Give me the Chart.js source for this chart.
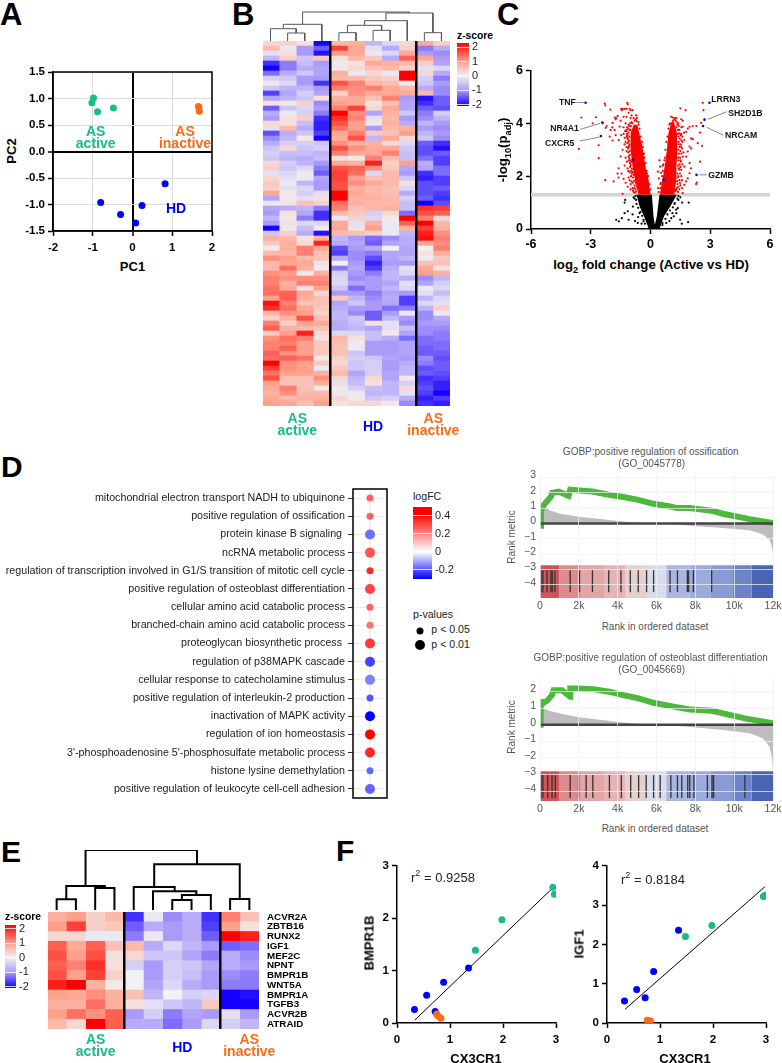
<!DOCTYPE html>
<html>
<head>
<meta charset="utf-8">
<title>Figure panels A-F</title>
<script src="https://cdn.jsdelivr.net/npm/chart.js@4"></script>
<style>
  html, body { margin: 0; background: #fff; }
  #page { position: relative; width: 782px; height: 1063px; overflow: hidden; font-family: "Liberation Sans", Arial, sans-serif; }
  #page canvas { position: absolute; }
  .lbl { position: absolute; white-space: nowrap; line-height: 1; }
  .lbl sub, .lbl sup { font-size: 70%; line-height: 0; }
</style>
</head>
<body>
<div id="page"></div>
<script>
// Panel A: PCA
const pcaActive = [[-0.98, 1.01], [-1.02, 0.92], [-0.88, 0.75], [-0.48, 0.82]];
const pcaInactive = [[1.66, 0.85], [1.67, 0.82], [1.68, 0.76]];
const pcaHD = [[0.82, -0.61], [-0.80, -0.96], [-0.30, -1.19], [0.24, -1.02], [0.08, -1.35]];

// Panel B: z-scores, 73 genes x 11 samples (AS active 4, HD 5, AS inactive 2)
const heatB = [
  [.3,.4,.2,-2,.7,.8,-.7,-.3,.3,.9,.4],
  [.7,-.1,-1,-1.4,1.6,.9,-.2,-.8,.4,-1.2,-.8],
  [-.2,.2,-1,-1.9,1,.9,-.1,-.3,.9,-1,-1.1],
  [-.7,.4,-.5,.5,.2,.7,.5,-.8,1.4,.9,-1],
  [-1.7,-1.2,-.6,-1,.1,.2,.9,.8,.7,.4,-.9],
  [-2,-1.2,-.8,-.9,.1,.3,.6,.7,.4,-.2,-.3],
  [-1.3,-.8,-.5,-.9,.8,-.1,.3,-.1,2.1,.3,-.8],
  [-.4,-.5,-1,-1,.7,.7,.5,.4,2,-.4,-1.2],
  [-.1,-.3,-1,-1.7,1.5,1.2,.7,.6,.1,-.5,-1],
  [-.5,-.7,-.7,-1,1.2,1.1,1.2,.9,.7,-.8,-1.1],
  [-1.6,-.9,-.4,-.9,.4,1.1,.9,.9,.9,.7,-1.1],
  [-.9,-.7,-.5,.2,.8,.9,.6,1.2,-1,-1.9,-1.4],
  [.2,.1,.4,-1.1,1,.9,.2,.6,-.9,-1.7,-1.4],
  [-1.4,-.5,-.3,-1,1.2,1.6,.3,.9,-.9,-1.4,-1.5],
  [-.8,-.1,-.4,-1.2,2,1.1,-.9,.8,-.5,-1.2,-.4],
  [-1,.2,.4,-1.7,1.7,1.2,-.2,.7,-1,-1.1,-.7],
  [.3,.2,-.6,-1.8,1.5,1,.1,.8,-.8,-.7,-1],
  [-.2,.7,-.8,-1.8,1.3,1,-1,.7,.8,-1,-1.1],
  [-1.5,-.8,-.5,-1.6,.9,1.2,.5,.6,1,-.7,-1],
  [-1.1,-.7,.1,-2.1,.8,1.5,-.7,.9,.3,-.5,-1.1],
  [-.8,-.4,-.4,-.5,1.1,.8,.8,.3,-.3,-1.4,-1.7],
  [-.5,.3,-.5,-.4,1.5,1.1,.9,.9,-.5,-1.5,-1.9],
  [-.4,-.6,-.6,-.7,1.2,.9,.9,1.2,-.6,-1.5,-1.4],
  [-.5,-.7,-.8,-.6,.2,.1,1.2,.7,-.6,-1.3,-1.6],
  [.3,-.4,-.7,-1,.9,.8,1.8,.4,1,-.8,-1.6],
  [.4,-.5,-.3,-1.2,1.5,1.4,1.1,.5,-.9,-.9,-1.3],
  [-.2,-.3,.1,-1.4,1.6,1.3,-.3,.7,-1,-1.7,-1.3],
  [.3,-.2,-.1,-.9,1.6,1,.6,.7,-.5,-1.8,-1.6],
  [.5,-.1,-.7,-1,1.5,1.1,.9,.7,.2,-1.5,-1.6],
  [.4,-.2,-.3,-1,1.5,.8,.7,.6,-.3,-1.5,-1.4],
  [.9,.1,-.4,-.2,2,.9,.7,.6,-.8,-1.5,-1.6],
  [-.9,-.1,-.2,.2,2,.8,.8,.7,-.4,-1.4,-1.7],
  [-.1,.2,.6,.4,1.3,.8,.7,.7,-.6,-2,-1.5],
  [-.9,-.8,-.7,-1.2,1.2,.6,.7,.8,-.6,1.7,1.6],
  [-1,.2,-.9,-1.7,.7,.5,-.4,.3,-1.3,1.5,1.4],
  [-.7,.1,-1.2,-1.7,-.1,.4,-.3,.1,2,1.2,.3],
  [-1,.2,-.3,-.3,.9,-.2,.8,-.1,1.4,2,.7],
  [-2.1,-.1,-.6,.1,.9,.2,1,-.1,.8,1.6,.8],
  [-.5,.4,-.8,-1.9,.7,.6,.4,-.1,-.7,1.8,1.1],
  [.8,.7,.2,.8,-.7,-1,-1.3,-1.1,-.8,1.9,1.2],
  [.5,.8,.3,1.8,-.8,-.9,-1.4,-.9,-.8,.9,1.1],
  [.1,.8,1.2,.9,-1.5,-1,-.8,0,-.9,0,1.2],
  [.7,.7,1.2,.6,-1.6,-1.1,-1.2,-.9,-.9,.2,.8],
  [1.1,1,.7,.6,-.8,-1.1,-1.5,-.9,-.7,.1,.5],
  [.7,.9,.9,.2,0,-1,-1.8,-1,-1,.6,.6],
  [.7,1.3,.8,.1,-1.2,-.9,-1.6,-.8,-.2,.9,.2],
  [1.1,1,.1,.8,-.4,-1,-1.2,-.7,-.3,1,.8],
  [1.2,1.1,1.1,1.1,-.3,-1.1,-1,-.7,-.8,-1.1,-.7],
  [1.2,.8,1.2,1.2,-.3,-.9,-1,-.9,-.2,-.9,-.4],
  [1.3,.9,.2,1,-.5,-1.3,-1,-.7,-.3,-.1,-.3],
  [1.3,1.4,.9,.3,-1,-1,-1.2,-.9,-1,-.2,-.6],
  [1,1.4,.8,.6,.5,-.7,-1.1,-.8,-1.6,-.7,-.3],
  [1.9,1.2,.6,.6,-.9,-.5,-1,-.9,-1.6,-.3,-.2],
  [1.7,1.3,.9,.5,-.8,-1,-1,-1.3,-1.2,-.7,.4],
  [.7,1.1,1,.4,-.7,-1.1,-1.4,-1,-.1,-1.1,-.1],
  [.4,.8,1.5,.6,-.7,-.5,-1.4,-.7,-1,-1.1,-.8],
  [1.2,.4,1,.9,-.8,-.6,.2,-.2,-1.1,-1,-1],
  [1.4,.8,.7,.6,-.8,-.7,-.9,-.2,-.6,-1.1,-1.1],
  [.5,1,1.8,.3,-.3,-.3,-.6,.1,-.9,-1.1,-1.2],
  [1.1,1.3,1.2,.2,.7,.2,-.6,-.8,-1.3,-1.3,-1.2],
  [1.2,1.2,1,.5,.6,-.1,-1,-1,-.9,-1.3,-1.3],
  [1.2,1.4,1,.5,.6,-.1,-1,-1,-.9,-1.4,-1.3],
  [1.4,1.1,1,.5,.6,-.5,-1,-1,-.9,-1.4,-1.4],
  [1.3,1.4,1.3,.1,.4,-.4,-.5,-.9,-1,-1.1,-1.5],
  [2,1.1,1,.5,.3,-.5,-.4,-1,-.8,-1.2,-1.4],
  [1.6,1.1,1,-.1,.5,-.5,-.4,-1,-.7,-1.5,-1.4],
  [1.3,1,1,.8,.7,-.9,-.4,-.9,-.7,-1.4,-1.5],
  [1.5,.6,.6,1.1,.3,-.7,.3,-.9,.1,-1.7,-1.6],
  [1,.6,.6,.8,-.2,-.6,.2,-.7,-.4,-1.6,-1.8],
  [.9,1.2,.6,.1,.1,-.4,-.6,-.7,.3,-1.5,-1.8],
  [.8,1.1,.7,.7,-.1,-.1,-.7,-.7,-.2,-1.6,-2.1],
  [.9,.7,.8,.8,.3,.1,-.5,-.4,-.8,-1.8,-1.6],
  [1,.9,.6,1,.2,.3,.3,.1,-1.1,-1.7,-1.8]
];
const treeB = [[[0, [1, 2, 8], 12.3], 3, 16.7], [[[[4, 5, 8.3], [6, 7, 10.7], 15.7], 8, 20.3], [9, 10, 8.3], 28], 29];

// Panel C: volcano. The packed arms are read as outlines, the loose points one by one
const armLeft = [[-.6,1.3],[-.78,1.86],[-.9,2.36],[-1,2.99],[-1,3.62],[-.85,3.95],[-.66,3.95],[-.56,3.62],[-.38,2.99],[-.25,2.36],[-.1,1.86],[.01,1.3]];
const armRight = [[.47,1.3],[.6,1.86],[.71,2.36],[.82,2.99],[.9,3.62],[1.05,4.05],[1.18,4.05],[1.33,3.62],[1.35,2.99],[1.3,2.36],[1.3,1.86],[1.2,1.3]];
const notSigBlock = [[-.08,0],[-.33,.48],[-.55,.86],[-.7,1.3],[.07,1.3],[.15,.48],[.22,.16],[.32,.48],[.45,1.3],[1.32,1.3],[1.0,.86],[.68,.48],[.45,0]];
const sigLoose = [
  [-3.6,3.03],[-3.47,4.22],[-2.74,4.23],[-2.9,4.0],[-2.3,4.75],[-2.27,4.68],[-2.02,4.52],[-2.4,4.0],[-2.2,3.9],[-2.0,3.75],[-2.25,3.83],
  [-1.8,4.22],[-1.72,4.2],[-1.75,4.15],[-1.44,4.5],[-1.17,4.78],[-1.14,4.72],[-1.4,4.55],[-1.47,4.55],[-1.3,4.55],[-1.2,4.55],[-1.05,4.55],
  [-1,4.5],[-1.65,4.28],[-1.9,4.02],[-1.92,3.85],[-1.8,3.75],[-1.55,3.88],[-1.75,3.55],[-1.47,3.55],[-1.6,3.37],[-1.3,3.45],[-1.9,3.35],
  [-2.05,3.5],[-2.6,3.17],[-2.6,2.68],[-2.27,1.85],[-1.85,1.8],[-1.6,2.3],[-1.65,2.1],[-1.6,1.95],[-1.45,2.1],[-1.35,1.9],[-1.25,1.75],
  [-1.15,1.6],[-1.4,1.33],[-1.3,2.4],[-1.5,2.75],[-1.4,3.0],[-1.2,3.1],[-1.25,2.7],[-1.3,3.2],[-1.15,2.3],[-1.1,1.95],[-1,1.5],[-1.15,3.4],
  [-1.2,3.7],[-1.35,3.85],[-1.5,4.1],[-1.25,4.0],[-1.1,3.95],[-.95,4.3],[-.9,4.5],[-1,4.2],[-.85,4.2],[-.8,4.1],[-1.1,4.4],[-1.2,4.25],
  [-1.35,4.25],[-.95,2.1],[-.95,1.8],[-.9,1.55],[-.85,1.4],[-1.05,3.2],[-1.12,2.9],[-1.08,2.6],[-1.02,2.35],[-.98,2.0],[-.8,1.65],[-.72,1.42],
  [-1.15,3.55],[-1.18,3.85],[-.95,4.05],[-.7,4.08],[-.6,4.05],[-.75,1.5],[-.9,1.75],[-1.02,2.6],[-1.1,3.1],
  [-.75,4.15],[-.68,4.2],[-.72,4.3],[-.78,1.38],[-.82,1.55],[-.88,1.95],[-.96,2.2],[-1.04,2.8],[-1.08,3.35],[-1.05,3.75],
  [0,1.5],[-.05,1.7],[-.12,2.0],[-.2,2.2],[-.25,2.5],[-.3,2.7],[-.38,3.1],[-.42,3.3],[-.5,3.5],[-.55,3.8],[-.6,3.95],[-.46,3.2],[-.33,2.85],[-.17,2.1],
  [-.7,1.6],[-.74,1.75],[-.82,1.82],[-.86,2.05],[-.9,2.15],[-.93,2.28],[-1,2.42],[-1.03,2.5],[-.97,2.55],[-1.06,2.68],[-1.1,2.75],[-1.04,2.95],
  [-1.12,3.05],[-1.08,3.15],[-1.16,3.25],[-1.1,3.3],[-1.14,3.45],[-1.2,3.5],[-1.06,3.5],[-1.1,3.65],[-1.18,3.6],[-1.22,3.75],[-1.12,3.8],[-1,3.75],
  [-1.08,3.9],[-.98,3.9],[-.92,4.0],[-1.02,4.0],[-1.28,3.7],[-1.35,3.6],[-1.25,3.3],[-1.2,2.95],[-1.18,2.55],[-1.12,2.2],[-1.05,2.15],[-1,1.7],[-1.05,1.85],[-.88,1.45],
  [2.63,4.78],[2.66,4.5],[1.5,4.57],[1.76,4.5],[1.04,4.25],[1.12,4.22],[1.2,4.15],[1.54,4.15],[1.62,4.1],[1.62,3.87],[1.96,3.87],[2.12,3.9],
  [2.3,3.9],[2.54,4.02],[2.49,3.65],[1.87,3.8],[1.79,3.68],[2.04,3.43],[2.12,3.4],[2.37,3.25],[2.59,3.15],[1.96,3.12],[1.87,2.93],[2.04,3.05],
  [1.79,2.74],[1.96,2.49],[2.04,2.3],[2.49,2.55],[2.32,1.76],[2.29,1.7],[1.96,2.11],[1.79,1.8],[1.87,1.92],[1.62,1.36],[1.59,1.55],[1.7,1.67],
  [1.54,2.24],[1.7,2.36],[1.62,2.74],[1.54,3.12],[1.7,3.37],[1.55,3.6],[1.6,3.3],[1.5,2.6],[1.55,2.0],[1.48,1.75],[1.45,1.5],[1.38,1.4],
  [.45,2.6],[.48,2.36],[.37,2.17],[.53,2.13],[.42,1.92],[.5,1.7],[.38,1.55],[.62,2.4],[.7,2.6],[1.3,4.2],[1.4,4.0],[.95,3.95],[1.55,3.85],
  [.42,1.4],[.5,1.55],[.52,1.75],[.58,2.0],[.62,2.2],[.65,2.45],[.72,2.7],[.75,3.0],[.8,3.3],[.85,3.5],[.9,3.8],[.98,4.0],
  [1.35,1.42],[1.4,1.6],[1.45,1.85],[1.48,2.1],[1.5,2.35],[1.52,2.55],[1.55,2.85],[1.58,3.05],[1.55,3.35],[1.52,3.55],[1.45,3.75],[1.35,3.95],[1.25,4.1],
  [1.38,2.7],[1.42,3.2],[1.4,3.5],[1.42,2.3],[1.36,1.95],[1.28,1.5],
  [1.26,1.45],[1.33,1.55],[1.36,1.7],[1.34,1.8],[1.4,2.0],[1.35,2.1],[1.44,2.25],[1.38,2.4],[1.46,2.45],[1.4,2.6],[1.48,2.7],[1.42,2.85],[1.5,2.95],
  [1.4,3.0],[1.46,3.1],[1.52,3.2],[1.42,3.3],[1.47,3.42],[1.38,3.6],[1.46,3.62],[1.38,3.75],[1.3,3.85],[1.42,3.9],[1.32,4.05],[1.22,4.2],[1.12,4.1],
  [1.6,2.45],[1.66,2.9],[1.6,3.5],[1.68,3.65],[1.58,1.85],[1.5,1.65]
];
const notSigLoose = [
  [-1.27,1.1],[-1.72,.35],[-1.44,.41],[-1.14,.67],[-1.3,.6],[-1.1,.35],[-1.3,1.0],[-1.59,.29],[-.64,.23],[-.35,.29],[-.55,.6],[-.72,1.1],
  [-.88,.85],[-.78,.3],[-.9,.55],[-.62,.45],[-.45,.2],[-.85,1.2],[1.92,1.0],[1.59,1.0],[1.37,.79],[1.49,.35],[1.89,.26],[1.57,.2],[1.17,.48],
  [1.29,.73],[1.04,.41],[.79,.23],[1.4,1.1],[1.5,1.2],[1.2,.95],[1.3,.6],[.95,.3],[1.1,.6],[.6,.15],
  [-.75,1.25],[-.8,1.15],[-.7,.95],[-.62,.8],[-.5,.65],[-.42,.5],[-.35,.35],[-.28,.2],[1.4,1.25],[1.35,1.15],[1.22,.98],[1.12,.82],[.98,.7],[.85,.55],[.75,.38],[.6,.22]
];
const geneGroups = [[-3.26,4.78],[2.96,4.78],[2.71,4.14],[2.64,3.9],[-2.42,4.03],[-2.49,3.52],[2.31,2.05],[-.89,2.62],[.65,1.86]];
const leaderLines = [
  [[-3.71,4.79],[-3.34,4.79]], [[-3.53,3.77],[-2.53,4.0]], [[-3.56,3.33],[-2.56,3.48]],
  [[2.88,4.15],[3.83,4.44]], [[2.82,3.85],[3.63,3.56]], [[2.46,2.05],[2.83,2.05]]
];

// Panel D: enrichment dots
const termLabels = [
  'mitochondrial electron transport NADH to ubiquinone', 'positive regulation of ossification', 'protein kinase B signaling ',
  'ncRNA metabolic process', 'regulation of transcription involved in G1/S transition of mitotic cell cycle',
  'positive regulation of osteoblast differentiation', 'cellular amino acid catabolic process',
  'branched-chain amino acid catabolic process', 'proteoglycan biosynthetic process ', 'regulation of p38MAPK cascade',
  'cellular response to catecholamine stimulus', 'positive regulation of interleukin-2 production',
  'inactivation of MAPK activity', 'regulation of ion homeostasis', "3'-phosphoadenosine 5'-phosphosulfate metabolic process",
  'histone lysine demethylation', 'positive regulation of leukocyte cell-cell adhesion'
];
const termLogFC = [.28, .28, -.17, .3, .38, .33, .28, .25, .35, -.22, -.15, -.2, -.3, .45, .38, -.18, -.18];
const termP = [.05, .05, .01, .01, .05, .01, .05, .05, .01, .01, .01, .05, .01, .01, .01, .05, .01];

// Panel D right: GSEA running score, rank metric and hit positions
const scoreOssif = [[0,-.15],[50,.8],[190,1.2],[360,1.45],[565,1.75],[630,2.0],[960,2.08],[1470,1.8],[1555,2.2],[2035,2.15],[2700,2.08],[3540,1.87],[4290,1.72],[5060,1.54],[5850,1.28],[6700,1.1],[7080,1.0],[7710,1.0],[8840,.83],[9420,.63],[10790,.28],[12000,.02]];
const metricOssif = [[0,2.6],[50,1.3],[530,.85],[1040,.63],[2070,.41],[3100,.28],[4290,.13],[5150,.02],[6500,-.02],[7710,-.15],[9420,-.3],[10790,-.45],[11470,-.7],[11820,-1.07],[11940,-1.5],[12000,-1.93]];
const hitsOssif = [50,150,360,565,630,770,1555,2035,2700,3540,4170,4650,5060,5490,5850,6700,7080,7590,7660,7900,8840];
const scoreOsteo = [[0,0],[20,1.55],[50,1.18],[395,1.48],[620,1.78],[700,2.08],[1130,2.08],[1555,1.68],[1560,2.18],[1985,2.18],[2750,2.14],[3575,1.98],[4290,1.78],[5080,1.58],[5850,1.32],[6740,1.12],[7710,.92],[8860,.84],[9420,.68],[10550,.38],[12000,.08]];
const metricOsteo = [[0,2.8],[20,1.04],[530,.82],[1040,.68],[2070,.44],[3100,.3],[4290,.14],[5150,.04],[6500,-.02],[7710,-.14],[9420,-.32],[10790,-.52],[11470,-.82],[11820,-1.32],[11940,-1.92],[12000,-2.72]];
const hitsOsteo = [50,150,395,620,790,1555,1985,2375,2720,3575,4190,4670,5080,5470,5850,6190,6740,7080,7300,7610,7710,7930,8620,8860,8940,10550];
const stripEdges = [0,1000,2100,3300,4400,5500,6500,7700,8800,9900,10900,12000];
const stripColors = ['#d0555a','#df8a8c','#e3a5a5','#e5b5b5','#e6cfcf','#d9dcea','#aab5e0','#9dabdc','#8a9ad5','#6d83c8','#4a64b4'];

// Panel E: z-scores for the osteogenic genes
const geneLabels = ['ACVR2A','ZBTB16','RUNX2','IGF1','MEF2C','NPNT','BMPR1B','WNT5A','BMPR1A','TGFB3','ACVR2B','ATRAID'];
const heatE = [
  [.8,1,.4,.7,-1.7,-.1,-1.1,-.8,-1.7,1.2,.6],
  [1,1.6,.4,.5,-1.4,-.8,-1,-.8,-1.6,1,.2],
  [.3,.3,-.1,-.1,-1.2,-.1,-1,-.8,-1.4,2,1.8],
  [1.4,.9,1.4,.6,.7,-.8,-.3,-.7,-1,-1.4,-1.3],
  [1.5,1,1.5,.2,.3,-.5,-.5,-.9,-1.2,-.8,-1.1],
  [1.4,1.2,1.7,.2,-.4,-1,-.4,-.5,-.9,-.8,-1],
  [1.5,1,1.6,.4,0,-1,-.4,-.6,-1,-1.1,-1.2],
  [1.8,2,.8,.1,0,-.9,-.3,-.8,-1,-1.2,-1.2],
  [1,.9,1.1,.8,.6,-.7,0,-.4,-.3,-2,-1.9],
  [.8,.8,1.3,.8,.2,-.2,-.5,-.7,.5,-2,-2.1],
  [1,1.3,1.1,1.4,-1,-.4,-1.2,-.9,-1,-.2,-1],
  [.7,.3,2,1.4,-.8,-.8,-1.3,-1,-.3,-.4,-.7]
];
const treeE = [[[0, 1, 10.7], [2, 3, 22], 24], [[4, [5, [[6, 7, 10], 8, 15], 18.7], 23], [9, 10, 11], 45.7], 60];

// Panel F: correlations with CX3CR1
const bmprHD = [[.33,.26],[.56,.53],[.72,.22],[.88,.78],[1.35,1.05]];
const bmprActive = [[1.48,1.39],[1.98,1.97],[2.94,2.59],[2.97,2.46]];
const bmprInactive = [[.75,.17],[.78,.13],[.83,.09]];
const bmprFit = [[.34,.06],[2.94,2.58]];
const igfHD = [[.33,.56],[.56,.85],[.72,.64],[.88,1.31],[1.35,2.36]];
const igfActive = [[1.48,2.2],[1.98,2.48],[2.95,3.22],[2.98,3.25]];
const igfInactive = [[.76,.07],[.78,.06],[.82,.05]];
const igfFit = [[.34,.35],[2.98,3.47]];

const GREEN = '#16bd84', BLUE = '#0000ff', ORANGE = '#ff6a13';
const FONT = '"Liberation Sans", Arial, sans-serif';
Chart.defaults.font.family = FONT;
Chart.defaults.color = '#000';

const page = document.getElementById('page');

function label(html, x, y, o = {}) {
  const d = document.createElement('div');
  d.className = 'lbl';
  d.innerHTML = html;
  d.style.left = x + 'px';
  d.style.top = y + 'px';
  d.style.fontSize = (o.size || 11) + 'px';
  d.style.fontWeight = o.bold ? 'bold' : 'normal';
  d.style.color = o.color || '#000';
  const ax = o.align === 'left' ? '0' : '-50%';
  d.style.transform = `translate(${ax}, -50%)` + (o.rotate ? ' rotate(-90deg)' : '');
  page.appendChild(d);
}

function groupLabels(xActive, xHD, xInactive, y1, y2, yHD) {
  label('AS', xActive, y1, { size: 14, bold: true, color: GREEN });
  label('active', xActive, y2, { size: 14, bold: true, color: GREEN });
  label('HD', xHD, yHD, { size: 14, bold: true, color: BLUE });
  label('AS', xInactive, y1, { size: 14, bold: true, color: ORANGE });
  label('inactive', xInactive, y2, { size: 14, bold: true, color: ORANGE });
}

// box = plot rectangle in page pixels, pad = room left, top, right, bottom around it
function addChart(box, pad, cfg) {
  const [l, t, r, b] = box, [ml, mt, mr, mb] = pad;
  const canvas = document.createElement('canvas');
  canvas.width = r - l + ml + mr;
  canvas.height = b - t + mt + mb;
  canvas.style.left = (l - ml) + 'px';
  canvas.style.top = (t - mt) + 'px';
  page.appendChild(canvas);
  const sc = cfg.options.scales, onRight = sc.y.position === 'right';
  const xLabelled = sc.x.display !== false && !(sc.x.ticks && sc.x.ticks.display === false);
  if (sc.x.display !== false) sc.x.afterFit = s => { s.height = xLabelled ? mb : 0; };
  if (sc.y.display !== false) sc.y.afterFit = s => { s.width = onRight ? mr : ml; };
  cfg.options.responsive = false;
  cfg.options.animation = false;
  cfg.options.layout = { padding: {
    top: mt,
    bottom: xLabelled ? 0 : mb,
    left: (onRight || sc.y.display === false) ? ml : 0,
    right: (onRight && sc.y.display !== false) ? 0 : mr
  } };
  cfg.options.plugins = Object.assign({ legend: { display: false }, tooltip: { enabled: false } }, cfg.options.plugins);
  return new Chart(canvas, cfg);
}

const pts = a => a.map(([x, y]) => ({ x, y }));
const dots = (a, color, r = 3.5) => ({ data: pts(a), backgroundColor: color, borderWidth: 0, pointRadius: r });
const segment = (a, color, w) => ({ data: pts(a), showLine: true, borderColor: color, borderWidth: w, pointRadius: 0 });
const polygon = (a, color) => ({ data: pts(a), showLine: true, fill: 'shape', backgroundColor: color, borderWidth: 0, pointRadius: 0 });

const frame = {
  id: 'frame',
  afterDraw(c) {
    const a = c.chartArea, g = c.ctx;
    g.save();
    g.strokeStyle = '#000';
    g.lineWidth = 1.5;
    g.strokeRect(a.left, a.top, a.right - a.left, a.bottom - a.top);
    g.restore();
  }
};

function prismAxis(min, max, step, size, cb, padding = 3) {
  return {
    type: 'linear', min, max,
    ticks: { stepSize: step, autoSkip: false, includeBounds: false, padding, color: '#000', font: { size, weight: 'bold' }, callback: cb || (v => String(v)) },
    grid: { drawOnChartArea: false, tickColor: '#000', tickWidth: 1.5, tickLength: 5 },
    border: { color: '#000', width: 1.5 }
  };
}

// z-score ramp used by both heatmaps
const zStops = [[-2, [20, 0, 255]], [-1, [170, 155, 250]], [0, [242, 240, 242]], [1, [255, 160, 140]], [2, [255, 0, 0]]];
function zColor(v) {
  v = Math.max(-2, Math.min(2, v));
  for (let i = 0; i < zStops.length - 1; i++) {
    const [a, ca] = zStops[i], [b, cb] = zStops[i + 1];
    if (v <= b) {
      const t = (v - a) / (b - a);
      return 'rgb(' + ca.map((c, k) => Math.round(c + (cb[k] - c) * t)).join(',') + ')';
    }
  }
}

function heatmap(box, pad, rows, matrix, yOpts) {
  const nCol = matrix[0].length;
  const datasets = [];
  for (let c = 0; c < nCol; c++) {
    datasets.push({
      data: matrix.map(() => 1),
      backgroundColor: matrix.map(r => zColor(r[c])),
      borderWidth: 0, barPercentage: 1, categoryPercentage: 1
    });
  }
  addChart(box, pad, {
    type: 'bar',
    data: { labels: rows, datasets },
    options: {
      indexAxis: 'y',
      scales: {
        x: {
          type: 'linear', stacked: true, min: 0, max: nCol,
          ticks: { display: false, stepSize: 1, autoSkip: false },
          border: { display: false },
          grid: {
            z: 1, drawTicks: false,
            color: c => (c.tick.value === 4 || c.tick.value === 9) ? '#000' : 'rgba(0,0,0,0)',
            lineWidth: 2.5
          }
        },
        y: Object.assign({ type: 'category', stacked: true, offset: true, grid: { display: false }, border: { display: false } }, yOpts)
      }
    }
  });
}

// nested merges: [left, right, height], a bare number is a leaf column
function treePoints(node, out) {
  if (typeof node === 'number') return { x: node + .5, y: 0 };
  const a = treePoints(node[0], out), b = treePoints(node[1], out), h = node[2];
  out.push({ x: a.x, y: a.y }, { x: a.x, y: h }, { x: b.x, y: h }, { x: b.x, y: b.y }, { x: NaN, y: NaN });
  return { x: (a.x + b.x) / 2, y: h };
}

function dendrogram(box, tree, nCol, top, color, width) {
  const data = [];
  treePoints(tree, data);
  addChart(box, [2, 2, 2, 2], {
    type: 'scatter',
    data: { datasets: [{ data, showLine: true, borderColor: color, borderWidth: width, pointRadius: 0 }] },
    options: { scales: { x: { display: false, min: 0, max: nCol }, y: { display: false, min: 0, max: top } } }
  });
}

function colorbar(box, min, max, step, stops) {
  addChart(box, [0, 10, 24, 10], {
    type: 'bar',
    data: { labels: [''], datasets: [{
      data: [[min, max]], barPercentage: 1, categoryPercentage: 1, borderWidth: 0,
      backgroundColor: c => {
        const a = c.chart.chartArea;
        if (!a) return stops[0][1];
        const g = c.chart.ctx.createLinearGradient(0, a.bottom, 0, a.top);
        stops.forEach(([v, col]) => g.addColorStop((v - min) / (max - min), col));
        return g;
      }
    }] },
    options: {
      scales: {
        x: { display: false },
        y: {
          position: 'right', min, max,
          ticks: { stepSize: step, includeBounds: false, autoSkip: false, padding: 3, color: '#222', font: { size: 11 }, callback: v => String(Math.round(v * 10) / 10) },
          border: { display: false },
          grid: { z: 1, color: 'rgba(255,255,255,.8)', drawTicks: false, lineWidth: 1 }
        }
      }
    }
  });
}

// ---- Panel letters
label('A', 0, 14, { size: 31, bold: true, align: 'left' });
label('B', 232, 14, { size: 31, bold: true, align: 'left' });
label('C', 497, 14, { size: 31, bold: true, align: 'left' });
label('D', 1, 467, { size: 30, bold: true, align: 'left' });
label('E', 1, 852, { size: 30, bold: true, align: 'left' });
label('F', 336, 851, { size: 30, bold: true, align: 'left' });

// ---- Panel A
const gridA = {
  color: c => c.tick.value === 0 ? '#000' : '#dcdcdc',
  lineWidth: c => c.tick.value === 0 ? 2 : 1,
  tickColor: '#000', tickWidth: 1.5, tickLength: 5
};
addChart([53, 71.7, 212.3, 231], [30, 10, 15, 24], {
  type: 'scatter',
  data: { datasets: [dots(pcaActive, GREEN), dots(pcaInactive, ORANGE), dots(pcaHD, BLUE)] },
  options: {
    scales: {
      x: Object.assign(prismAxis(-2, 2, 1, 11.5, null, 5), { grid: gridA }),
      y: Object.assign(prismAxis(-1.5, 1.5, .5, 11.5, v => v.toFixed(1)), { grid: gridA })
    }
  },
  plugins: [frame]
});
label('PC1', 132.5, 266, { size: 13, bold: true });
label('PC2', 11, 151, { size: 13, bold: true, rotate: true });
label('AS', 95.7, 131, { size: 14, bold: true, color: GREEN });
label('active', 95.7, 143, { size: 14, bold: true, color: GREEN });
label('AS', 185, 131, { size: 14, bold: true, color: ORANGE });
label('inactive', 185, 143, { size: 14, bold: true, color: ORANGE });
label('HD', 176, 207.5, { size: 14, bold: true, color: BLUE });

// ---- Panel B
dendrogram([262.3, 10.7, 450.3, 40.7], treeB, 11, 30, '#555', 1);
heatmap([262.3, 41, 450.3, 406], [0, 0, 0, 0], heatB.map((r, i) => 'g' + (i + 1)), heatB, { ticks: { display: false } });
groupLabels(297.3, 373, 433.3, 418, 430, 426);
label('z-score', 457, 36, { size: 10.3, bold: true, align: 'left' });
colorbar([457.3, 43.3, 470, 106.7], -2.1, 2.3, 1,
  [[-2.1, '#0a00ff'], [-1, '#aa9bfa'], [0, '#f2f0f2'], [1, '#ffa08c'], [2.3, '#ff0000']]);

// ---- Panel C
const geneStyle = { size: 8.7, bold: true, align: 'left', color: '#111' };
addChart([531.3, 70.3, 770.7, 229.3], [30, 10, 10, 22], {
  type: 'scatter',
  data: { datasets: [
    dots(geneGroups, BLUE, 1.3),
    ...leaderLines.map(s => segment(s, '#888', 1)),
    dots(sigLoose, '#ff0000', 1.1),
    dots(notSigLoose, '#000', 1.1),
    polygon(armLeft, '#ff0000'),
    polygon(armRight, '#ff0000'),
    polygon(notSigBlock, '#000'),
    segment([[-6, 1.3], [6, 1.3]], '#d4d4d4', 3.5)
  ] },
  options: {
    scales: {
      x: prismAxis(-6, 6, 3, 12.5),
      y: prismAxis(0, 6, 2, 12.5)
    }
  }
});
label('log<sub>2</sub> fold change (Active vs HD)', 651, 265, { size: 13.2, bold: true });
label('-log<sub>10</sub>(p<sub>adj</sub>)', 503, 150, { size: 13.2, bold: true, rotate: true });
label('TNF', 559, 102, geneStyle);
label('NR4A1', 550.3, 128.3, geneStyle);
label('CXCR5', 545, 142.7, geneStyle);
label('LRRN3', 711.3, 99, geneStyle);
label('SH2D1B', 728.3, 113, geneStyle);
label('NRCAM', 725, 135, geneStyle);
label('GZMB', 708.3, 175, geneStyle);

// ---- Panel D dots
function fcColor(v) {
  const t = v >= 0 ? Math.min(1, v / .45) : Math.min(1, -v / .3);
  const k = Math.round(255 * (1 - t));
  return v >= 0 ? `rgb(255,${k},${k})` : `rgb(${k},${k},255)`;
}
addChart([352.7, 489.3, 386.7, 799], [352, 14, 14, 14], {
  type: 'scatter',
  data: { datasets: [{
    data: termLabels.map((t, i) => ({ x: 0, y: t })),
    backgroundColor: termLogFC.map(fcColor),
    pointRadius: termP.map(p => p < .05 ? 5 : 3.5),
    borderWidth: 0
  }] },
  options: {
    scales: {
      x: { type: 'linear', display: false, min: -1, max: 1 },
      y: {
        type: 'category', labels: termLabels, offset: true,
        ticks: { autoSkip: false, padding: 3, color: '#222', font: { size: 10.7 } },
        grid: { color: '#efefef', tickColor: '#333', tickLength: 5, tickWidth: 1 },
        border: { display: false }
      }
    }
  },
  plugins: [frame, {
    id: 'centreLine',
    beforeDatasetsDraw(c) {
      const x = c.scales.x.getPixelForValue(0), a = c.chartArea;
      c.ctx.save();
      c.ctx.strokeStyle = '#e2e2e2';
      c.ctx.beginPath();
      c.ctx.moveTo(x, a.top);
      c.ctx.lineTo(x, a.bottom);
      c.ctx.stroke();
      c.ctx.restore();
    }
  }]
});
label('logFC', 413, 496, { size: 10.6, align: 'left', color: '#222' });
colorbar([413.3, 507.3, 432.3, 580], -.3, .496, .2,
  [[-.3, '#0000ff'], [0, '#ffffff'], [.42, '#ff0000'], [.496, '#ff0000']]);
label('p-values', 413, 614, { size: 10.6, align: 'left', color: '#222' });
label('p &lt; 0.05', 431.3, 629, { size: 10.6, align: 'left', color: '#222' });
label('p &lt; 0.01', 431.3, 644, { size: 10.6, align: 'left', color: '#222' });
addChart([414, 626, 426, 650], [10, 10, 10, 10], {
  type: 'scatter',
  data: { datasets: [{
    data: [{ x: 0, y: .05 }, { x: 0, y: .01 }],
    backgroundColor: '#000', pointRadius: [3.5, 5], borderWidth: 0
  }] },
  options: { scales: { x: { display: false, min: -1, max: 1 }, y: { display: false, min: -.0043, max: .0643 } } }
});

// ---- Panel D GSEA plots
function gsea(box, yMin, yMax, ticksTop, score, metric, hits, stripTop, stripBottom, hitY, hitR) {
  const bands = stripColors.map((col, i) => polygon(
    [[stripEdges[i], stripTop], [stripEdges[i + 1], stripTop], [stripEdges[i + 1], stripBottom], [stripEdges[i], stripBottom]], col));
  const faint = 'rgba(238,240,244,0.75)';
  addChart(box, [24, 15, 15, 18], {
    type: 'scatter',
    data: { datasets: [
      { data: hits.map(x => ({ x, y: hitY })), pointStyle: 'line', rotation: 90, pointRadius: hitR, pointBorderColor: '#333', pointBorderWidth: 1.3, backgroundColor: '#333' },
      segment([[0, 0], [12000, 0]], '#444', 2.5),
      Object.assign(segment(score, '#4cb93c', 6), { borderJoinStyle: 'miter' }),
      { data: pts(metric), showLine: true, fill: 'origin', backgroundColor: '#bdbdbd', borderWidth: 0, pointRadius: 0 },
      ...bands
    ] },
    options: {
      scales: {
        x: {
          type: 'linear', min: 0, max: 12000,
          ticks: { stepSize: 2000, padding: 2, autoSkip: false, color: '#555', font: { size: 10.5 }, callback: v => v ? (v / 1000) + 'k' : '0' },
          grid: { z: 1, color: faint, drawTicks: false },
          border: { display: false }
        },
        y: {
          type: 'linear', min: yMin, max: yMax,
          ticks: {
            stepSize: 1, includeBounds: false, autoSkip: false, padding: 4, labelOffset: -2, color: '#555', font: { size: 10.5 },
            callback: v => v > ticksTop ? '' : String(v).replace('-', '\u2212')
          },
          grid: { z: 1, color: c => c.tick.value === 0 ? 'rgba(0,0,0,0)' : faint, drawTicks: false },
          border: { display: false }
        }
      }
    }
  });
}
gsea([539.7, 475, 773.3, 598.7], -4.87, 3.16, 3, scoreOssif, metricOssif, hitsOssif, -2.73, -4.87, -3.77, 11);
gsea([539.7, 676.7, 773.3, 801.3], -4.59, 2.87, 2, scoreOsteo, metricOsteo, hitsOsteo, -2.8, -4.59, -3.72, 11.5);
const gseaText = { size: 10, color: '#555' };
label('GOBP:positive regulation of ossification', 650.7, 451.7, gseaText);
label('(GO_0045778)', 651.7, 464, gseaText);
label('Rank in ordered dataset', 655, 627, gseaText);
label('GOBP:positive regulation of osteoblast differentiation', 650.7, 658, gseaText);
label('(GO_0045669)', 651.7, 670, gseaText);
label('Rank in ordered dataset', 655, 829, gseaText);
label('Rank metric', 512, 537, gseaText && { size: 10, color: '#555', rotate: true });
label('Rank metric', 512, 727, { size: 10, color: '#555', rotate: true });

// ---- Panel E
dendrogram([47, 850, 259.3, 910], treeE, 11, 60, '#000', 2);
heatmap([47, 911.7, 259.3, 1028.7], [0, 16, 60, 16], geneLabels, heatE, {
  position: 'right',
  ticks: { autoSkip: false, padding: 0, color: '#000', font: { size: 9.8, weight: 'bold' } }
});
groupLabels(95.7, 182.3, 249.3, 1039, 1050.5, 1046.7);
label('z-score', 5, 917.3, { size: 10.3, bold: true, align: 'left' });
colorbar([5, 925, 16.7, 988.3], -2.08, 2.26, 1,
  [[-2.08, '#0a00ff'], [-1, '#aa9bfa'], [0, '#f2f0f2'], [1, '#ffa08c'], [2.26, '#ff0000']]);

// ---- Panel F
function corr(box, yMax, hd, active, inactive, fit) {
  addChart(box, [24, 8, 14, 20], {
    type: 'scatter',
    data: { datasets: [dots(inactive, ORANGE), dots(hd, BLUE), dots(active, GREEN), segment(fit, '#000', 1)] },
    options: { scales: { x: prismAxis(0, 3, 1, 11.5, null, 5), y: prismAxis(0, yMax, 1, 11.5) } }
  });
}
corr([396.7, 864, 556, 1023.3], 3, bmprHD, bmprActive, bmprInactive, bmprFit);
corr([606.7, 864, 766, 1023.3], 4, igfHD, igfActive, igfInactive, igfFit);
label('r<sup>2</sup> = 0.9258', 411, 877, { size: 13, align: 'left', color: '#222' });
label('r<sup>2</sup> = 0.8184', 621, 879, { size: 13, align: 'left', color: '#222' });
label('BMPR1B', 369.3, 943, { size: 13, bold: true, rotate: true });
label('IGF1', 579, 944, { size: 13, bold: true, rotate: true });
label('CX3CR1', 476, 1057.5, { size: 13, bold: true });
label('CX3CR1', 685, 1057.5, { size: 13, bold: true });
</script>
</body>
</html>
